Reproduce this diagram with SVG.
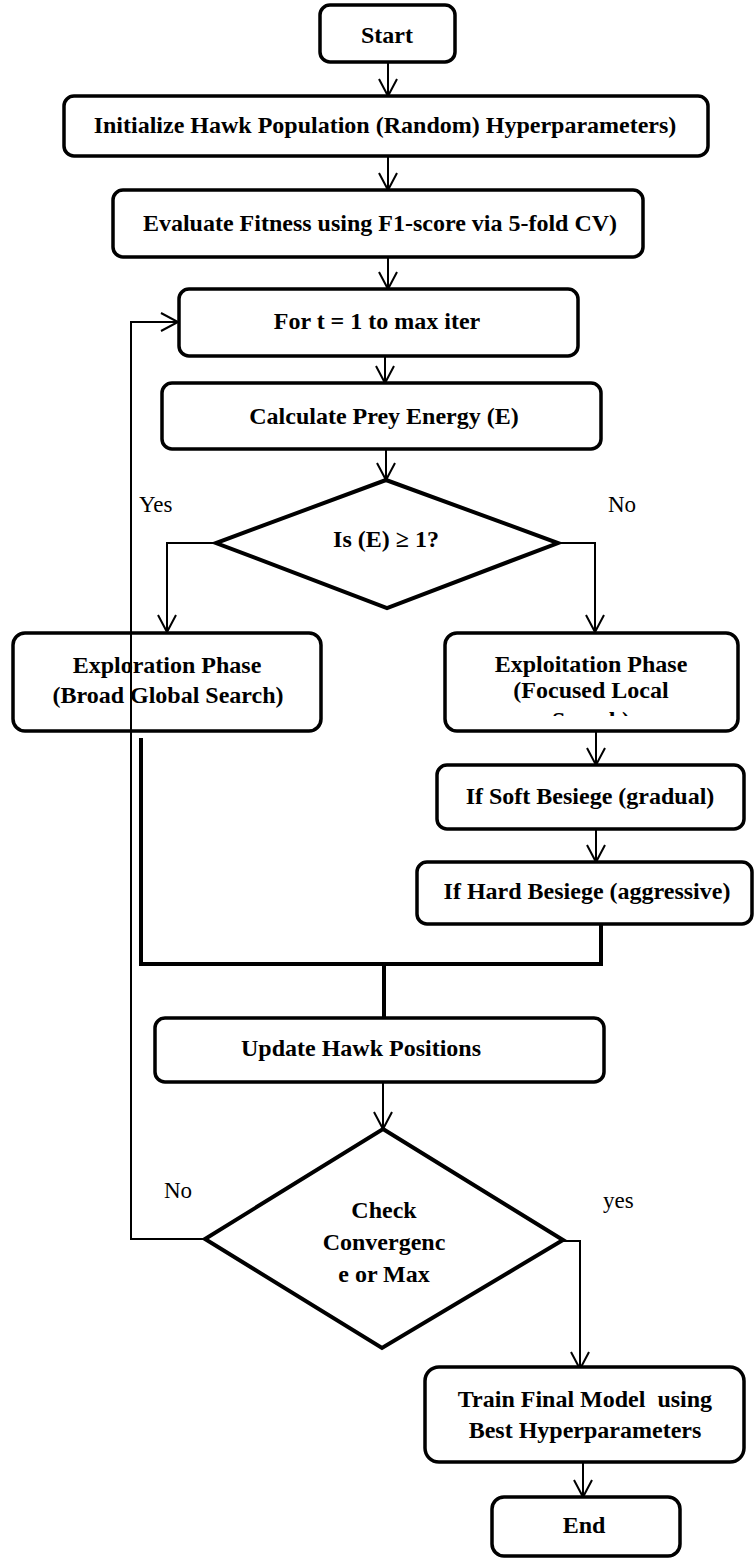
<svg xmlns="http://www.w3.org/2000/svg" width="754" height="1558" viewBox="0 0 754 1558">
<style>
.box{fill:#fff;stroke:#000;stroke-width:3.5}
.dia{fill:#fff;stroke:#000;stroke-width:4}
.t{font-family:"Liberation Serif","Times New Roman",serif;font-weight:bold;font-size:24px;fill:#000;text-anchor:middle}
.lbl{font-family:"Liberation Serif","Times New Roman",serif;font-size:23px;fill:#000}
.c{fill:none;stroke:#000;stroke-width:2}
.ct{fill:none;stroke:#000;stroke-width:4}
</style>
<defs>
<marker id="ah" markerWidth="24" markerHeight="24" viewBox="0 0 24 24" refX="18" refY="12" orient="auto" markerUnits="userSpaceOnUse">
<path d="M1,3 L18,12 L1,21" fill="none" stroke="#000" stroke-width="2"/>
</marker>
<clipPath id="clipExploit"><rect x="445" y="633" width="293" height="83"/></clipPath>
</defs>
<rect width="754" height="1558" fill="#fff"/>

<g id="connectors">
<line class="c" x1="388" y1="62" x2="388" y2="96" marker-end="url(#ah)"/>
<line class="c" x1="388" y1="156" x2="388" y2="190" marker-end="url(#ah)"/>
<line class="c" x1="388" y1="257" x2="388" y2="289" marker-end="url(#ah)"/>
<line class="c" x1="385" y1="356" x2="385" y2="383" marker-end="url(#ah)"/>
<line class="c" x1="386" y1="449" x2="386" y2="480" marker-end="url(#ah)"/>
<polyline class="c" points="216,543 167,543 167,632" marker-end="url(#ah)"/>
<polyline class="c" points="558,543 595,543 595,632" marker-end="url(#ah)"/>
<line class="c" x1="596" y1="731" x2="596" y2="765" marker-end="url(#ah)"/>
<line class="c" x1="596" y1="829" x2="596" y2="862" marker-end="url(#ah)"/>
<polyline class="ct" points="141,738 141,964 601,964 601,924"/>
<line class="ct" x1="384" y1="964" x2="384" y2="1018"/>
<line class="c" x1="383" y1="1082" x2="383" y2="1129" marker-end="url(#ah)"/>
<polyline class="c" points="205,1239 131,1239 131,322 178,322" marker-end="url(#ah)"/>
<polyline class="c" points="563,1241 580,1241 580,1369" marker-end="url(#ah)"/>
<line class="c" x1="583" y1="1463" x2="583" y2="1497" marker-end="url(#ah)"/>
</g>

<g id="start">
<rect class="box" x="320" y="5" width="135" height="57" rx="10"/>
<text class="t" x="387" y="43">Start</text>
</g>
<g id="init">
<rect class="box" x="64" y="96" width="644" height="60" rx="10"/>
<text class="t" x="385" y="133">Initialize Hawk Population (Random) Hyperparameters)</text>
</g>
<g id="evaluate">
<rect class="box" x="113" y="190" width="530" height="67" rx="10"/>
<text class="t" x="380" y="231">Evaluate Fitness using F1-score via 5-fold CV)</text>
</g>
<g id="for">
<rect class="box" x="179" y="289" width="399" height="67" rx="10"/>
<text class="t" x="377" y="329">For t = 1 to max iter</text>
</g>
<g id="calc">
<rect class="box" x="162" y="383" width="439" height="66" rx="10"/>
<text class="t" x="384" y="424">Calculate Prey Energy (E)</text>
</g>
<g id="decision1">
<polygon class="dia" points="386,480 558,543 387,608 216,543"/>
<text class="t" x="386" y="547">Is (E) ≥ 1?</text>
</g>
<g id="labels1">
<text class="lbl" x="139" y="512">Yes</text>
<text class="lbl" x="608" y="512">No</text>
</g>
<g id="exploration">
<rect class="box" x="13" y="633" width="308" height="98" rx="12"/>
<text class="t" x="167" y="673">Exploration Phase</text>
<text class="t" x="168" y="703">(Broad Global Search)</text>
</g>
<g id="exploitation">
<rect class="box" x="445" y="633" width="293" height="98" rx="12"/>
<text class="t" x="591" y="672">Exploitation Phase</text>
<text class="t" x="591" y="698">(Focused Local</text>
<text class="t" x="591" y="728" clip-path="url(#clipExploit)">Search)</text>
</g>
<g id="soft">
<rect class="box" x="437" y="765" width="307" height="64" rx="10"/>
<text class="t" x="590" y="804">If Soft Besiege (gradual)</text>
</g>
<g id="hard">
<rect class="box" x="417" y="862" width="335" height="62" rx="10"/>
<text class="t" x="587" y="899">If Hard Besiege (aggressive)</text>
</g>
<g id="update">
<rect class="box" x="155" y="1018" width="449" height="64" rx="10"/>
<text class="t" x="361" y="1056">Update Hawk Positions</text>
</g>
<g id="decision2">
<polygon class="dia" points="383,1129 563,1240 382,1348 205,1239"/>
<text class="t" x="384" y="1218">Check</text>
<text class="t" x="384" y="1250">Convergenc</text>
<text class="t" x="384" y="1282">e or Max</text>
</g>
<g id="loop">
<line class="c" x1="131" y1="322" x2="131" y2="1239"/>
</g>
<g id="labels2">
<text class="lbl" x="164" y="1198">No</text>
<text class="lbl" x="603" y="1208">yes</text>
</g>
<g id="train">
<rect class="box" x="425" y="1367" width="319" height="95" rx="14"/>
<text class="t" x="585" y="1407" xml:space="preserve">Train Final Model  using</text>
<text class="t" x="585" y="1438">Best Hyperparameters</text>
</g>
<g id="end">
<rect class="box" x="492" y="1497" width="188" height="59" rx="12"/>
<text class="t" x="584" y="1533">End</text>
</g>
</svg>
